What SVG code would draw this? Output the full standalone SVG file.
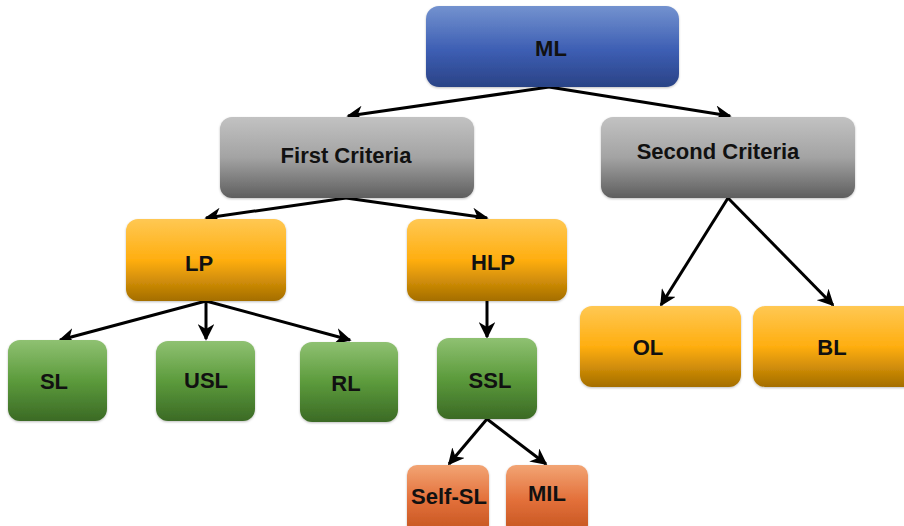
<svg xmlns="http://www.w3.org/2000/svg" width="904" height="526" viewBox="0 0 904 526">
<defs>
<linearGradient id="gBlue" x1="0" y1="0" x2="0" y2="1"><stop offset="0" stop-color="#7392cf"/><stop offset="0.55" stop-color="#3d5eb3"/><stop offset="1" stop-color="#2a4386"/></linearGradient>
<linearGradient id="gGray" x1="0" y1="0" x2="0" y2="1"><stop offset="0" stop-color="#c2c2c2"/><stop offset="0.5" stop-color="#a3a3a3"/><stop offset="1" stop-color="#5e5e5e"/></linearGradient>
<linearGradient id="gOrange" x1="0" y1="0" x2="0" y2="1"><stop offset="0" stop-color="#ffc853"/><stop offset="0.5" stop-color="#ffae10"/><stop offset="1" stop-color="#a46e00"/></linearGradient>
<linearGradient id="gGreen" x1="0" y1="0" x2="0" y2="1"><stop offset="0" stop-color="#8fc172"/><stop offset="0.5" stop-color="#5c9b3c"/><stop offset="1" stop-color="#3b6a25"/></linearGradient>
<linearGradient id="gRed" x1="0" y1="0" x2="0" y2="1"><stop offset="0" stop-color="#f2a474"/><stop offset="0.5" stop-color="#e3703a"/><stop offset="1" stop-color="#c2531e"/></linearGradient>
<filter id="sh" x="-10%" y="-10%" width="120%" height="130%"><feDropShadow dx="0" dy="1" stdDeviation="1.2" flood-color="#000" flood-opacity="0.25"/></filter>
<marker id="arr" viewBox="0 0 10 10" refX="9" refY="5" markerWidth="5.5" markerHeight="5.5" orient="auto" markerUnits="strokeWidth"><path d="M0,0 L10,5 L0,10 L3,5 z" fill="#000"/></marker>
</defs>
<style>
rect{filter:url(#sh)}
text{font-family:"Liberation Sans",Arial,sans-serif;font-weight:bold;font-size:22px;fill:#111;text-anchor:middle;dominant-baseline:central}
.c line{stroke:#000;stroke-width:3;marker-end:url(#arr)}
</style>
<g class="c" id="connectors">
<line x1="549" y1="87" x2="348" y2="116"/>
<line x1="549" y1="87" x2="730" y2="116"/>
<line x1="346" y1="198" x2="206" y2="218"/>
<line x1="346" y1="198" x2="487" y2="218"/>
<line x1="206" y1="301" x2="60" y2="340"/>
<line x1="206" y1="301" x2="206" y2="339"/>
<line x1="206" y1="301" x2="350" y2="340"/>
<line x1="487" y1="301" x2="487" y2="337"/>
<line x1="487" y1="419" x2="449" y2="464"/>
<line x1="487" y1="419" x2="546" y2="464"/>
<line x1="728" y1="198" x2="661" y2="305"/>
<line x1="728" y1="198" x2="833" y2="305"/>
</g>
<g id="ML"><rect x="426" y="6" width="253" height="81" rx="13" fill="url(#gBlue)"/><text x="551" y="48">ML</text></g>
<g id="FirstCriteria"><rect x="220" y="117" width="254" height="81" rx="12" fill="url(#gGray)"/><text x="346" y="155">First Criteria</text></g>
<g id="SecondCriteria"><rect x="601" y="117" width="254" height="81" rx="12" fill="url(#gGray)"/><text x="718" y="151">Second Criteria</text></g>
<g id="LP"><rect x="126" y="219" width="160" height="82" rx="12" fill="url(#gOrange)"/><text x="199" y="263">LP</text></g>
<g id="HLP"><rect x="407" y="219" width="160" height="82" rx="12" fill="url(#gOrange)"/><text x="493" y="262">HLP</text></g>
<g id="SL"><rect x="8" y="340" width="99" height="81" rx="12" fill="url(#gGreen)"/><text x="54" y="381">SL</text></g>
<g id="USL"><rect x="156" y="341" width="99" height="80" rx="12" fill="url(#gGreen)"/><text x="206" y="380">USL</text></g>
<g id="RL"><rect x="300" y="342" width="98" height="80" rx="12" fill="url(#gGreen)"/><text x="346" y="383">RL</text></g>
<g id="SSL"><rect x="437" y="338" width="100" height="81" rx="12" fill="url(#gGreen)"/><text x="490" y="380">SSL</text></g>
<g id="SelfSL"><rect x="407" y="465" width="82" height="70" rx="10" fill="url(#gRed)"/><text x="449" y="496">Self-SL</text></g>
<g id="MIL"><rect x="506" y="465" width="82" height="70" rx="10" fill="url(#gRed)"/><text x="547" y="493">MIL</text></g>
<g id="OL"><rect x="580" y="306" width="161" height="81" rx="12" fill="url(#gOrange)"/><text x="648" y="347">OL</text></g>
<g id="BL"><rect x="753" y="306" width="165" height="81" rx="12" fill="url(#gOrange)"/><text x="832" y="347">BL</text></g>
</svg>
